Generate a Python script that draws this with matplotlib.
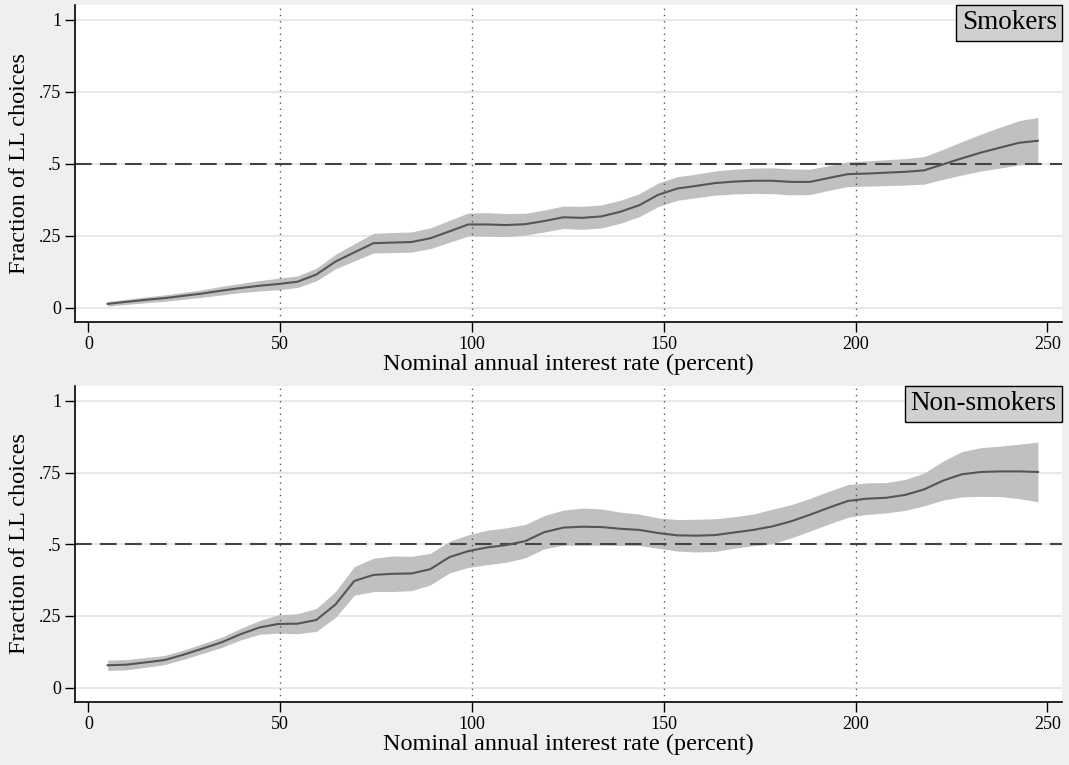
import matplotlib
matplotlib.use("Agg")
import matplotlib.pyplot as plt
from matplotlib.offsetbox import AnchoredText

plt.rcParams['font.family'] = ['Liberation Serif', 'DejaVu Serif']

# nominal annual interest rate (percent) at each choice point
rates = [5, 9.9, 14.9, 19.8, 24.8, 29.7, 34.7, 39.6, 44.6, 49.5,
         54.5, 59.4, 64.4, 69.3, 74.3, 79.2, 84.2, 89.1, 94.1, 99,
         104, 108.9, 113.9, 118.8, 123.8, 128.7, 133.7, 138.6, 143.6, 148.5,
         153.5, 158.4, 163.4, 168.3, 173.3, 178.2, 183.2, 188.1, 193.1, 198,
         203, 207.9, 212.9, 217.8, 222.8, 227.7, 232.7, 237.6, 242.6, 247.5]

# smokers: fraction of LL choices and half width of the band
smk_mean = [0.013, 0.020, 0.027, 0.033, 0.041, 0.049, 0.059, 0.068, 0.076, 0.082,
            0.090, 0.115, 0.160, 0.192, 0.224, 0.226, 0.228, 0.241, 0.265, 0.289,
            0.289, 0.287, 0.290, 0.301, 0.314, 0.312, 0.317, 0.333, 0.356, 0.392,
            0.414, 0.423, 0.433, 0.438, 0.441, 0.441, 0.437, 0.437, 0.451, 0.464,
            0.466, 0.469, 0.472, 0.477, 0.498, 0.519, 0.539, 0.556, 0.573, 0.580]
smk_ci = [0.008, 0.009, 0.010, 0.011, 0.012, 0.013, 0.015, 0.016, 0.018, 0.020,
          0.020, 0.022, 0.025, 0.030, 0.034, 0.035, 0.035, 0.036, 0.038, 0.040,
          0.041, 0.040, 0.038, 0.038, 0.039, 0.040, 0.040, 0.040, 0.040, 0.041,
          0.041, 0.041, 0.042, 0.043, 0.044, 0.045, 0.045, 0.044, 0.043, 0.043,
          0.044, 0.045, 0.046, 0.048, 0.052, 0.058, 0.064, 0.071, 0.077, 0.081]

# non-smokers
non_mean = [0.078, 0.080, 0.088, 0.096, 0.115, 0.136, 0.158, 0.186, 0.210, 0.222,
            0.223, 0.236, 0.290, 0.372, 0.393, 0.397, 0.398, 0.413, 0.455, 0.476,
            0.489, 0.497, 0.511, 0.542, 0.558, 0.561, 0.560, 0.554, 0.550, 0.539,
            0.531, 0.530, 0.532, 0.541, 0.550, 0.562, 0.580, 0.603, 0.628, 0.651,
            0.659, 0.662, 0.672, 0.691, 0.722, 0.744, 0.752, 0.754, 0.754, 0.752]
non_ci = [0.018, 0.018, 0.017, 0.016, 0.016, 0.017, 0.018, 0.020, 0.024, 0.032,
          0.035, 0.040, 0.045, 0.050, 0.058, 0.062, 0.060, 0.055, 0.055, 0.057,
          0.060, 0.060, 0.058, 0.058, 0.061, 0.065, 0.063, 0.058, 0.055, 0.053,
          0.055, 0.057, 0.057, 0.055, 0.055, 0.060, 0.058, 0.057, 0.057, 0.057,
          0.055, 0.053, 0.054, 0.057, 0.068, 0.079, 0.085, 0.088, 0.095, 0.104]

panels = [("Smokers", smk_mean, smk_ci), ("Non-smokers", non_mean, non_ci)]
yticks = [0, 0.25, 0.5, 0.75, 1]
ylabels = ["0", ".25", ".5", ".75", "1"]
xticks = [0, 50, 100, 150, 200, 250]
vlines = [50, 100, 150, 200]

fig = plt.figure(figsize=(10.69, 7.65), dpi=100, facecolor='#efefef')
boxes = [[0.0702, 0.5791, 0.9233, 0.4144], [0.0702, 0.0824, 0.9233, 0.4131]]

for pos, (name, mean, ci) in zip(boxes, panels):
    ax = fig.add_axes(pos)
    ax.set_facecolor('white')
    lo = [m - c for m, c in zip(mean, ci)]
    hi = [m + c for m, c in zip(mean, ci)]
    for y in yticks:
        ax.axhline(y, color='#e6e6e6', lw=1.3, zorder=0)
    ax.fill_between(rates, lo, hi, color='#c0c0c0', lw=0, zorder=1)
    ax.axhline(0.5, color='#444444', lw=1.5, dashes=(8, 4), zorder=2)
    for v in vlines:
        ax.axvline(v, color='#555555', lw=1, ls=(0, (1, 3.5)), zorder=2)
    ax.plot(rates, mean, color='#555555', lw=1.5, zorder=3)

    ax.set_xlim(-3.5, 253.8)
    ax.set_ylim(-0.05, 1.052)
    ax.set_xticks(xticks)
    ax.set_yticks(yticks)
    ax.set_yticklabels(ylabels)
    ax.tick_params(direction='out', length=7, width=1, labelsize=13, pad=3)
    for s in ['top', 'right']:
        ax.spines[s].set_visible(False)
    for s in ['left', 'bottom']:
        ax.spines[s].set_linewidth(1.2)
    ax.set_ylabel("Fraction of LL choices", fontsize=17.5, labelpad=6)
    ax.set_xlabel("Nominal annual interest rate (percent)", fontsize=17.5, labelpad=0.5)

    at = AnchoredText(name, loc='upper right', borderpad=0, pad=0.2,
                      prop=dict(size=19.5), frameon=True)
    at.patch.set_facecolor('#d0d0d0')
    at.patch.set_edgecolor('black')
    at.patch.set_linewidth(1)
    at.patch.set_boxstyle('square,pad=0')
    ax.add_artist(at)

fig.savefig("out.png", dpi=100, facecolor=fig.get_facecolor())
